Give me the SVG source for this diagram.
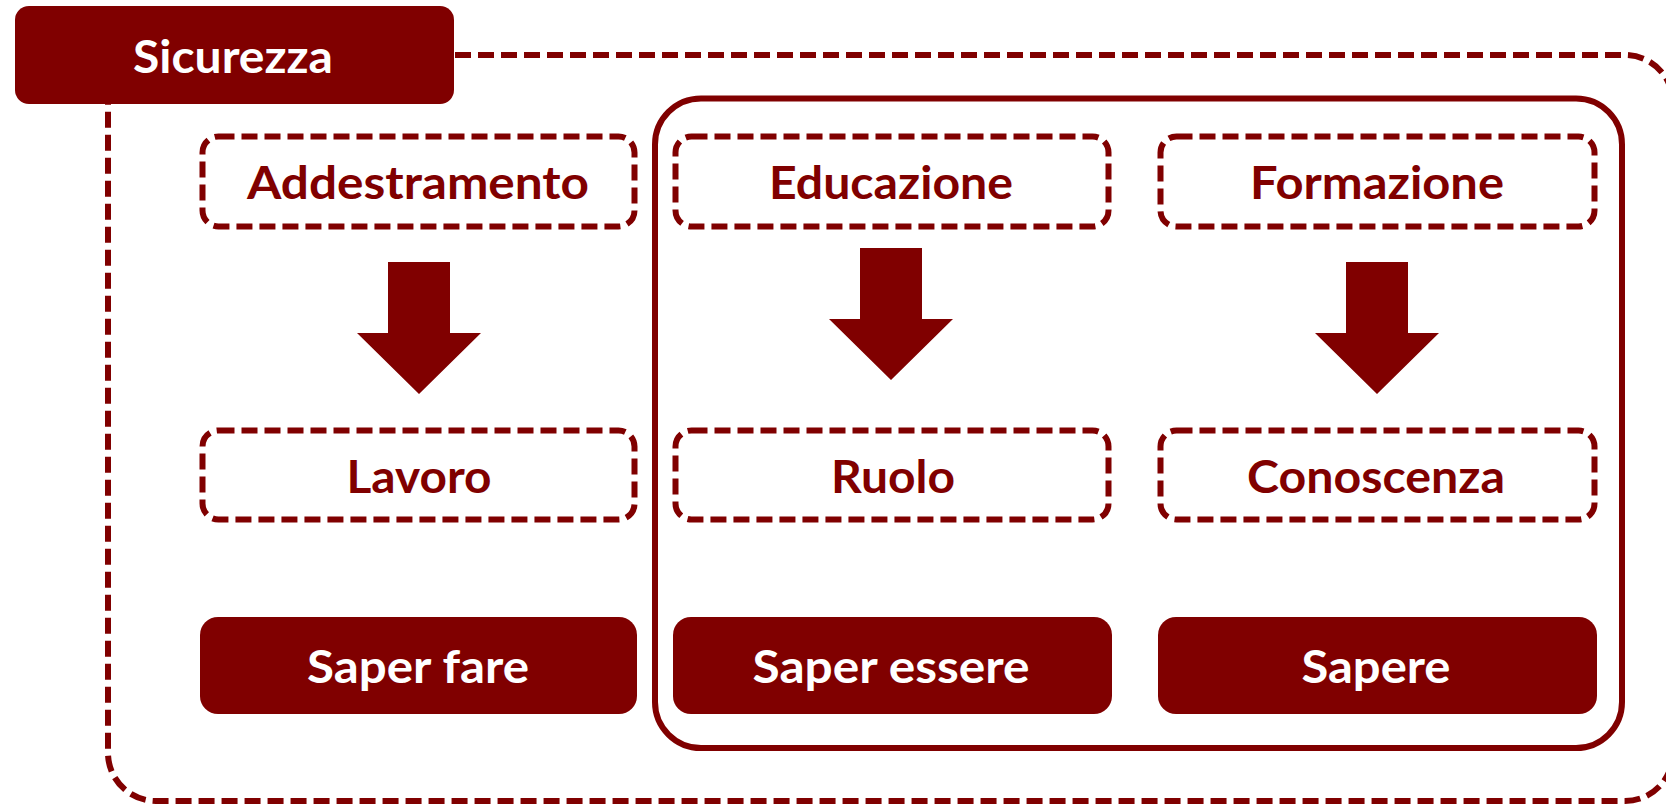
<svg xmlns="http://www.w3.org/2000/svg" width="1666" height="805" viewBox="0 0 1666 805">
<style>
.dash{fill:#fff;stroke:#800000;stroke-width:6;stroke-dasharray:16 7;}
.solid{fill:#800000;}
.t{font-family:Lato,"Liberation Sans",sans-serif;font-weight:700;font-size:46px;text-anchor:middle;}
.dk{fill:#800000;}
.wt{fill:#fff;}
</style>
<rect width="1666" height="805" fill="#fff"/>
<g id="outer-frame">
<rect x="108" y="55" width="1565" height="746" rx="48" fill="none" stroke="#800000" stroke-width="6" stroke-dasharray="16 7"/>
</g>
<g id="inner-frame">
<rect x="655" y="98.5" width="967" height="649.5" rx="46" fill="none" stroke="#800000" stroke-width="6"/>
</g>
<g id="sicurezza">
<rect x="15" y="6" width="439" height="98" rx="14" class="solid"/>
<text x="233" y="73" class="t wt" textLength="200" lengthAdjust="spacingAndGlyphs">Sicurezza</text>
</g>
<g id="addestramento">
<rect x="202.5" y="136.5" width="432" height="90" rx="16" class="dash"/>
<text x="418" y="199" class="t dk" textLength="342" lengthAdjust="spacingAndGlyphs">Addestramento</text>
</g>
<g id="educazione">
<rect x="675.5" y="136.5" width="433" height="90" rx="16" class="dash"/>
<text x="891" y="199" class="t dk" textLength="244" lengthAdjust="spacingAndGlyphs">Educazione</text>
</g>
<g id="formazione">
<rect x="1160.5" y="136.5" width="434" height="90" rx="16" class="dash"/>
<text x="1377" y="199" class="t dk" textLength="254" lengthAdjust="spacingAndGlyphs">Formazione</text>
</g>
<g id="lavoro">
<rect x="202.5" y="430.5" width="432" height="89" rx="16" class="dash"/>
<text x="419" y="493" class="t dk" textLength="145" lengthAdjust="spacingAndGlyphs">Lavoro</text>
</g>
<g id="ruolo">
<rect x="675.5" y="430.5" width="433" height="89" rx="16" class="dash"/>
<text x="893" y="493" class="t dk" textLength="124" lengthAdjust="spacingAndGlyphs">Ruolo</text>
</g>
<g id="conoscenza">
<rect x="1160.5" y="430.5" width="434" height="89" rx="16" class="dash"/>
<text x="1376" y="493" class="t dk" textLength="258" lengthAdjust="spacingAndGlyphs">Conoscenza</text>
</g>
<g id="saper-fare">
<rect x="200" y="617" width="437" height="97" rx="18" class="solid"/>
<text x="418" y="683" class="t wt" textLength="222" lengthAdjust="spacingAndGlyphs">Saper fare</text>
</g>
<g id="saper-essere">
<rect x="673" y="617" width="439" height="97" rx="18" class="solid"/>
<text x="891" y="683" class="t wt" textLength="277" lengthAdjust="spacingAndGlyphs">Saper essere</text>
</g>
<g id="sapere">
<rect x="1158" y="617" width="439" height="97" rx="18" class="solid"/>
<text x="1376" y="683" class="t wt" textLength="149" lengthAdjust="spacingAndGlyphs">Sapere</text>
</g>
<g id="connectors" class="solid">
<polygon points="388,262 450,262 450,333 481,333 419,394 357,333 388,333"/>
<polygon points="860,248 922,248 922,319 953,319 891,380 829,319 860,319"/>
<polygon points="1346,262 1408,262 1408,333 1439,333 1377,394 1315,333 1346,333"/>
</g>
</svg>
